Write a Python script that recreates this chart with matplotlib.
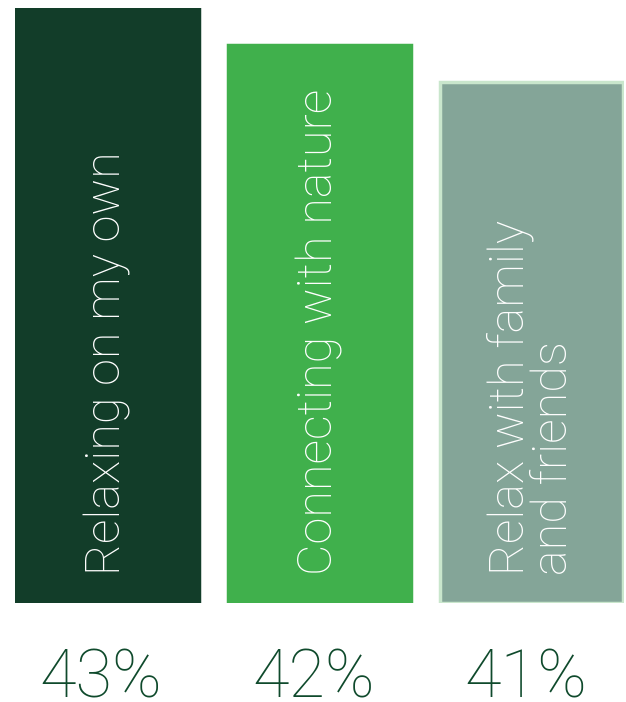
import matplotlib.pyplot as plt
import matplotlib.transforms as mtransforms

labels = ["Relaxing on my own", "Connecting with nature", "Relax with family\nand friends"]
values = [43, 42, 41]
pct_labels = ["43%", "42%", "41%"]
colors = ["#123d29", "#40b04c", "#84a598"]
edges = ["#123d29", "#40b04c", "#c9e6cc"]

fig = plt.figure(figsize=(6.26, 7.02), dpi=100)
ax = fig.add_axes([15 / 626, 99 / 702, 609 / 626, 595 / 702])

base = 27
x = range(len(values))
ax.bar(x, [v - base for v in values], bottom=base, width=0.86,
       color=colors, edgecolor=edges, linewidth=2.5)
ax.set_xlim(-0.435, 2.435)
ax.set_ylim(base, 43)
ax.axis("off")

for i, lab in enumerate(labels):
    ax.text(i, base + 0.75, lab, rotation=90, ha="center", va="bottom",
            color="white", fontsize=35, family="Roboto", fontweight="light",
            linespacing=0.92, multialignment="left")

trans = mtransforms.blended_transform_factory(ax.transData, fig.transFigure)
for i, p in enumerate(pct_labels):
    ax.text(i - 0.03, 5 / 702, p, ha="center", va="baseline", transform=trans,
            color="#0f4a2c", fontsize=48, family="Roboto", fontweight="light")

fig.savefig("out.png", dpi=100)
